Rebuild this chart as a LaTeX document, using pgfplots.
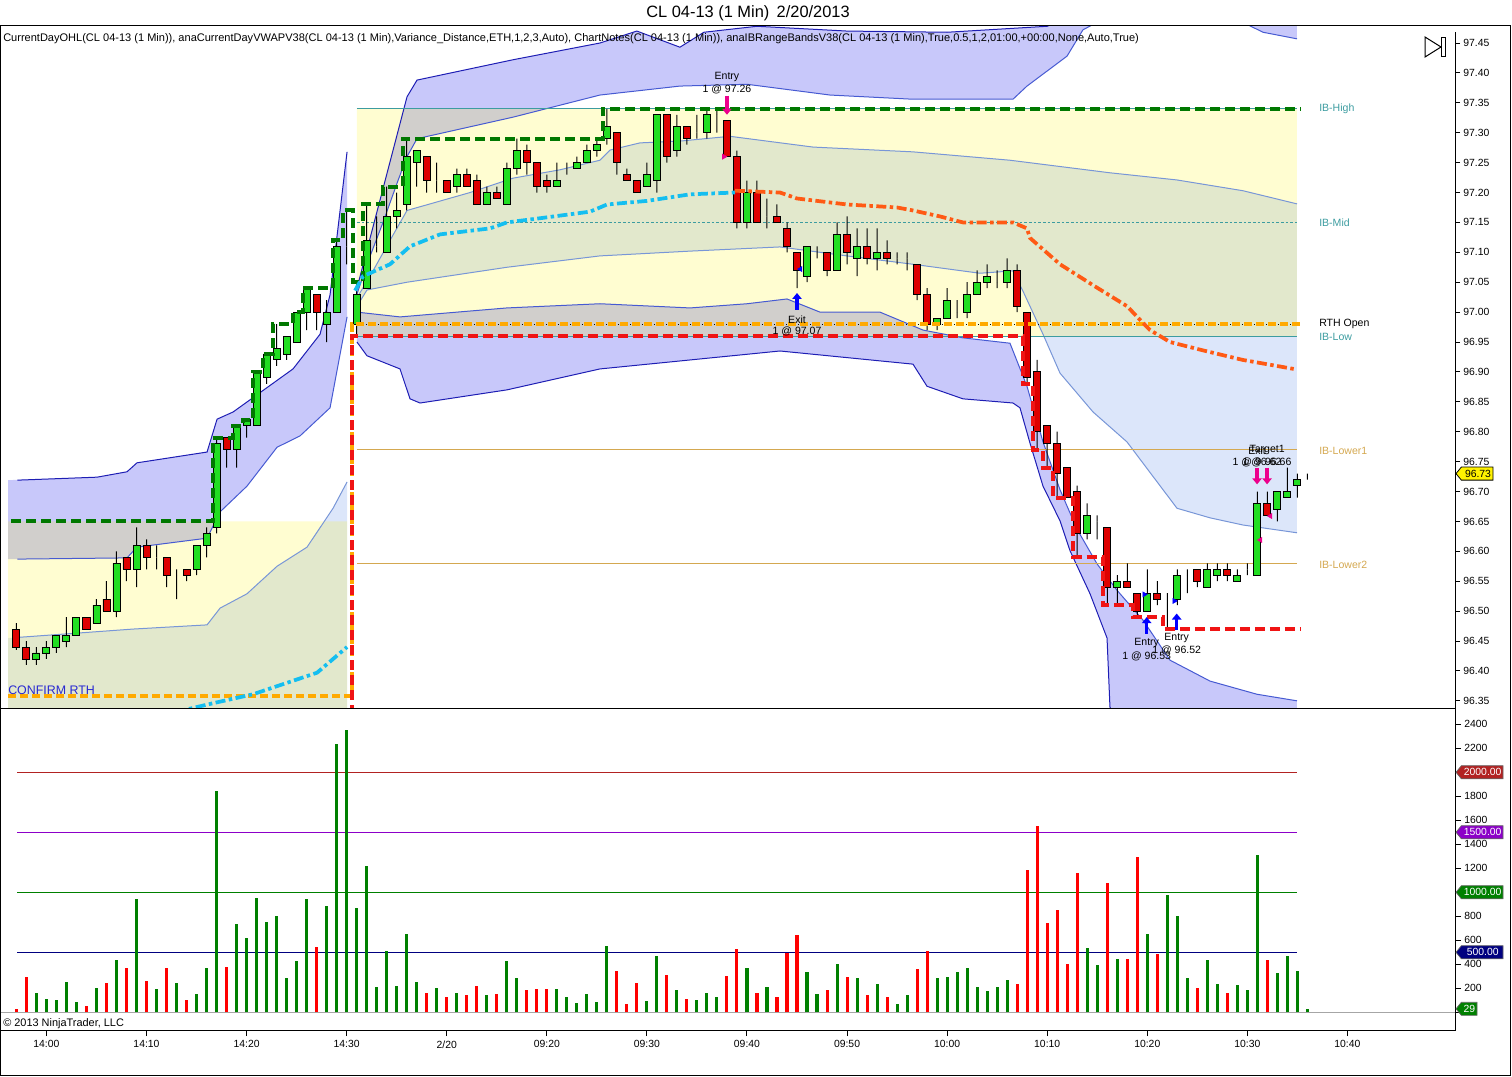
\documentclass[border=0pt]{standalone}
\usepackage{fontspec}
\setmainfont{Liberation Sans}
\usepackage{pgfplots}
\usepackage{pgfplotstable}
\pgfplotsset{compat=1.18}
\usetikzlibrary{arrows.meta}

\definecolor{bandblue}{RGB}{200,200,250}
\definecolor{midblue}{RGB}{220,230,250}
\definecolor{edgedark}{RGB}{30,30,180}
\definecolor{edgemid}{RGB}{70,90,210}
\definecolor{edgelight}{RGB}{120,150,215}
\definecolor{teal1}{RGB}{60,156,160}
\definecolor{gold1}{RGB}{212,168,80}
\definecolor{upg}{RGB}{34,222,34}
\definecolor{dnr}{RGB}{222,0,0}
\definecolor{ibgreen}{RGB}{0,120,0}
\definecolor{lowred}{RGB}{240,20,20}
\definecolor{openor}{RGB}{255,170,0}
\definecolor{vwapc}{RGB}{20,190,240}
\definecolor{vwapo}{RGB}{255,90,20}
\definecolor{vgreen}{RGB}{0,128,0}
\definecolor{vred}{RGB}{255,0,0}
\definecolor{l2000}{RGB}{178,34,34}
\definecolor{l1500}{RGB}{140,0,200}
\definecolor{l1000}{RGB}{0,128,0}
\definecolor{l500}{RGB}{0,0,128}
\definecolor{cfblue}{RGB}{40,40,210}

\newcommand\tk{\fontsize{7.8pt}{9pt}\selectfont}
\newcommand\an{\fontsize{7.9pt}{9pt}\selectfont}

% one-minute bars: index, open, high, low, close
\pgfplotstableread{
i o h l c
-3 96.47 96.48 96.435 96.44
-2 96.44 96.45 96.41 96.42
-1 96.42 96.44 96.41 96.43
0 96.43 96.45 96.42 96.44
1 96.44 96.46 96.43 96.46
2 96.45 96.49 96.44 96.46
3 96.46 96.49 96.46 96.49
4 96.49 96.49 96.47 96.47
5 96.48 96.52 96.48 96.51
6 96.52 96.55 96.50 96.50
7 96.50 96.60 96.49 96.58
8 96.59 96.59 96.55 96.57
9 96.57 96.64 96.54 96.61
10 96.61 96.62 96.57 96.59
11 96.59 96.61 96.57 96.59
12 96.59 96.59 96.54 96.56
13 96.56 96.57 96.52 96.56
14 96.57 96.57 96.55 96.56
15 96.57 96.61 96.56 96.61
16 96.61 96.64 96.59 96.63
17 96.64 96.79 96.63 96.78
18 96.79 96.79 96.74 96.77
19 96.77 96.81 96.74 96.81
20 96.81 96.82 96.79 96.82
21 96.81 96.90 96.81 96.90
22 96.89 96.93 96.88 96.93
23 96.92 96.98 96.91 96.94
24 96.93 96.96 96.92 96.96
25 96.95 97.00 96.95 97.00
26 97.00 97.04 96.97 97.04
27 97.03 97.03 96.97 97.00
28 96.98 97.02 96.95 97.00
29 97.00 97.12 97.00 97.11
30 97.11 97.17 97.08 97.11
31 96.98 97.05 96.96 97.03
32 97.04 97.18 97.04 97.12
33 97.11 97.16 97.10 97.11
34 97.10 97.21 97.10 97.16
35 97.16 97.20 97.14 97.17
36 97.18 97.29 97.17 97.26
37 97.25 97.27 97.21 97.27
38 97.26 97.26 97.20 97.22
39 97.22 97.25 97.20 97.22
40 97.22 97.22 97.20 97.20
41 97.21 97.24 97.20 97.23
42 97.23 97.24 97.21 97.21
43 97.22 97.23 97.18 97.18
44 97.18 97.21 97.18 97.20
45 97.20 97.21 97.19 97.19
46 97.18 97.25 97.18 97.24
47 97.24 97.29 97.23 97.27
48 97.27 97.28 97.23 97.25
49 97.25 97.25 97.20 97.21
50 97.22 97.23 97.20 97.21
51 97.21 97.25 97.21 97.22
52 97.24 97.25 97.23 97.24
53 97.24 97.26 97.24 97.25
54 97.25 97.28 97.25 97.27
55 97.27 97.29 97.26 97.28
56 97.29 97.34 97.28 97.31
57 97.30 97.30 97.23 97.25
58 97.23 97.24 97.22 97.22
59 97.22 97.22 97.20 97.20
60 97.21 97.25 97.21 97.23
61 97.22 97.33 97.20 97.33
62 97.33 97.33 97.25 97.26
63 97.27 97.33 97.26 97.31
64 97.31 97.31 97.28 97.29
65 97.30 97.33 97.29 97.30
66 97.30 97.34 97.29 97.33
67 97.33 97.34 97.30 97.33
68 97.32 97.32 97.26 97.26
69 97.26 97.27 97.14 97.15
70 97.15 97.22 97.14 97.20
71 97.20 97.22 97.15 97.15
72 97.16 97.19 97.14 97.16
73 97.16 97.18 97.15 97.15
74 97.14 97.15 97.10 97.11
75 97.10 97.10 97.04 97.07
76 97.06 97.11 97.05 97.11
77 97.11 97.11 97.09 97.11
78 97.10 97.10 97.06 97.07
79 97.07 97.15 97.07 97.13
80 97.13 97.16 97.08 97.10
81 97.09 97.14 97.06 97.11
82 97.11 97.14 97.08 97.09
83 97.09 97.14 97.07 97.10
84 97.10 97.12 97.08 97.09
85 97.09 97.10 97.08 97.09
86 97.09 97.10 97.07 97.09
87 97.08 97.08 97.02 97.03
88 97.03 97.04 96.97 96.98
89 96.98 96.99 96.97 96.99
90 96.99 97.04 96.99 97.02
91 97.00 97.02 96.99 97.00
92 97.00 97.05 96.99 97.03
93 97.03 97.07 97.03 97.05
94 97.05 97.08 97.04 97.06
95 97.05 97.07 97.04 97.05
96 97.05 97.09 97.04 97.07
97 97.07 97.08 97.00 97.01
98 97.00 97.00 96.88 96.89
99 96.90 96.92 96.77 96.80
100 96.81 96.81 96.74 96.78
101 96.78 96.80 96.69 96.73
102 96.74 96.74 96.69 96.69
103 96.70 96.71 96.59 96.63
104 96.63 96.68 96.62 96.66
105 96.65 96.66 96.62 96.65
106 96.64 96.64 96.51 96.54
107 96.54 96.56 96.51 96.55
108 96.55 96.58 96.54 96.54
109 96.53 96.53 96.49 96.50
110 96.50 96.57 96.50 96.53
111 96.53 96.55 96.51 96.52
112 96.52 96.53 96.47 96.52
113 96.52 96.57 96.51 96.56
114 96.56 96.57 96.53 96.56
115 96.57 96.57 96.54 96.55
116 96.54 96.58 96.54 96.57
117 96.56 96.58 96.55 96.57
118 96.57 96.58 96.55 96.56
119 96.55 96.57 96.55 96.56
120 96.57 96.58 96.56 96.57
121 96.56 96.70 96.56 96.68
122 96.68 96.70 96.66 96.66
123 96.67 96.70 96.65 96.70
124 96.69 96.74 96.69 96.70
125 96.71 96.73 96.69 96.72
126 96.73 96.73 96.72 96.73
}\candles

% volume per bar, up = 1 for a green bar
\pgfplotstableread{
i v up
-3 25 0
-2 294 0
-1 158 1
0 111 1
1 103 1
2 253 1
3 86 1
4 53 0
5 203 1
6 244 0
7 436 1
8 372 0
9 944 1
10 261 0
11 194 1
12 372 0
13 244 1
14 103 0
15 153 1
16 372 1
17 1847 1
18 381 0
19 736 1
20 619 1
21 953 1
22 753 1
23 803 1
24 286 1
25 428 1
26 944 1
27 544 0
28 886 1
29 2236 1
30 2353 1
31 869 1
32 1219 1
33 214 1
34 514 1
35 222 1
36 653 1
37 253 1
38 161 0
39 203 1
40 131 0
41 161 1
42 144 0
43 219 0
44 144 1
45 153 0
46 428 1
47 286 1
48 186 0
49 194 0
50 194 0
51 194 1
52 128 1
53 78 1
54 153 1
55 86 1
56 553 1
57 344 0
58 69 0
59 244 0
60 94 1
61 469 1
62 311 0
63 186 1
64 111 0
65 103 1
66 161 1
67 128 1
68 303 0
69 528 0
70 369 1
71 161 0
72 211 1
73 128 0
74 494 0
75 644 0
76 336 1
77 153 1
78 186 0
79 403 1
80 294 0
81 286 1
82 144 0
83 236 1
84 128 0
85 69 1
86 144 1
87 361 0
88 511 0
89 286 1
90 294 1
91 336 1
92 369 1
93 211 1
94 178 1
95 211 1
96 269 1
97 236 0
98 1186 0
99 1553 0
100 744 0
101 853 0
102 403 0
103 1161 0
104 536 1
105 394 1
106 1078 0
107 444 1
108 444 0
109 1294 0
110 653 1
111 486 0
112 978 1
113 803 1
114 286 1
115 203 0
116 436 1
117 236 1
118 161 0
119 228 1
120 186 1
121 1311 1
122 436 0
123 328 1
124 469 1
125 344 1
126 29 1
}\vols

\pgfplotsset{
  chartbase/.style={scale only axis, anchor=south west, width=1091.25pt,
    xmin=-4.64, xmax=140.75},
  pricebase/.style={chartbase, at={(0pt,276pt)}, height=510.75pt},
  edge/.style={line width=0.75pt},
}

\begin{document}
\begin{tikzpicture}
\path[use as bounding box] (0,0) rectangle (1134pt,807pt);

% ---------- price panel: bands, levels, ticks
\begin{axis}[pricebase, ymin=96.338, ymax=97.4768,
  axis line style={draw=none}, xtick=\empty,
  ytick={96.35,96.4,96.45,96.5,96.55,96.6,96.65,96.7,96.75,96.8,96.85,96.9,96.95,97,97.05,97.1,97.15,97.2,97.25,97.3,97.35,97.4,97.45},
  ytick pos=right, yticklabel pos=right, tick align=outside,
  major tick length=3.75pt, tick style={black, line width=0.75pt},
  yticklabel style={font=\tk, xshift=-1pt, /pgf/number format/.cd, fixed, fixed zerofill, precision=2, assume math mode=true}]
  % previous session bands
  \addplot[fill=bandblue, draw=none] coordinates {(-3.84,96.719) (5.06,96.724) (8.05,96.733) (9.05,96.748) (16.05,96.766) (17.05,96.821) (18.65,96.833) (24.64,96.905) (27.34,96.963) (28.34,97.029) (30.04,97.268) (30.04,96.992) (28.34,96.840) (25.34,96.793) (23.04,96.774) (20.04,96.709) (17.35,96.666) (16.05,96.622) (9.05,96.607) (8.05,96.589) (-3.84,96.587)};
  \addplot[fill=midblue, draw=none] coordinates {(-3.84,96.455) (8.65,96.470) (16.05,96.477) (17.35,96.505) (20.04,96.529) (23.04,96.575) (26.04,96.607) (28.64,96.672) (30.04,96.716) (30.04,96.0) (-3.84,96.0)};
  % RTH bands
  \addplot[fill=bandblue, draw=none] coordinates {(31.03,97.04) (36.03,97.36) (37.03,97.388) (46.62,97.422) (55.31,97.45) (59,97.47) (63.3,97.443) (65.7,97.468) (71,97.478) (80,97.47) (90,97.468) (100,97.478) (103,97.50) (124.96,97.55) (124.96,97.457) (121.56,97.468) (115.27,97.52) (107.27,97.505) (103.57,97.472) (101.98,97.428) (97.98,97.378) (96.58,97.356) (86.59,97.356) (78.3,97.363) (70.0,97.381) (63.31,97.378) (55.31,97.363) (46.62,97.326) (37.03,97.29) (36.03,97.26) (35.13,97.22) (33.63,97.15) (32.03,97.08) (31.03,97.03)};
  \addplot[fill=midblue, draw=none] coordinates {(31.03,97.024) (32.33,97.06) (34.33,97.12) (36.03,97.17) (42.33,97.20) (46.62,97.224) (51.32,97.238) (55.31,97.254) (56.32,97.271) (59.31,97.283) (63.31,97.286) (68.3,97.294) (76.6,97.276) (86.59,97.268) (96.28,97.254) (106.27,97.233) (112.97,97.221) (119.56,97.203) (124.96,97.181) (124.96,96.631) (119.56,96.644) (116.27,96.656) (112.97,96.672) (107.97,96.783) (104.58,96.833) (101.28,96.898) (99.58,96.963) (97.58,97.035) (96.58,97.069) (93.28,97.065) (86.59,97.080) (79.99,97.094) (73.3,97.109) (64.31,97.102) (55.31,97.094) (46.02,97.075) (36.03,97.050) (32.03,97.037) (31.03,97.01)};
  \addplot[fill=bandblue, draw=none] coordinates {(31.03,97.00) (35.33,96.992) (46.02,97.007) (55.31,97.014) (64.31,97.007) (70.0,97.014) (74.0,97.022) (77.3,97.000) (83.29,97.000) (87.59,96.970) (91.58,96.957) (96.28,96.948) (97.98,96.876) (99.58,96.783) (101.28,96.703) (102.98,96.637) (104.98,96.579) (106.97,96.535) (109.57,96.485) (112.27,96.418) (116.27,96.383) (120.96,96.361) (124.96,96.350) (124.96,96.20) (108,96.25) (106.27,96.340) (105.98,96.455) (104.28,96.529) (102.28,96.601) (101.28,96.651) (99.58,96.709) (98.28,96.781) (97.28,96.840) (96.58,96.848) (91.58,96.855) (87.99,96.876) (86.59,96.913) (73.3,96.935) (64.31,96.920) (55.31,96.905) (46.02,96.870) (37.33,96.848) (36.33,96.855) (35.33,96.905) (32.03,96.927) (31.03,96.95)};
  % initial balance ranges
  \addplot[draw=none, fill=yellow, fill opacity=0.18] coordinates {(-3.84,96.30) (30.04,96.30) (30.04,96.65) (-3.84,96.65) (-3.84,96.30)};
  \addplot[draw=none, fill=yellow, fill opacity=0.18] coordinates {(31.03,96.96) (124.96,96.96) (124.96,97.34) (31.03,97.34) (31.03,96.96)};
  % band edges
  \addplot[edge, edgedark] coordinates {(-2.9,96.719) (5.06,96.724) (8.05,96.733) (9.05,96.748) (16.05,96.766) (17.05,96.821) (18.65,96.833) (24.64,96.905) (27.34,96.963) (28.34,97.029) (30.04,97.268)};
  \addplot[edge, edgemid] coordinates {(-2.9,96.587) (8.05,96.589) (9.05,96.607) (16.05,96.622) (17.35,96.666) (20.04,96.709) (23.04,96.774) (25.34,96.793) (28.34,96.840) (30.04,96.992)};
  \addplot[edge, edgelight] coordinates {(-2.9,96.456) (8.65,96.470) (16.05,96.477) (17.35,96.505) (20.04,96.529) (23.04,96.575) (26.04,96.607) (28.64,96.672) (30.04,96.716)};
  \addplot[edge, edgedark] coordinates {(31.03,97.04) (36.03,97.36) (37.03,97.388) (46.62,97.422) (55.31,97.45) (59,97.47) (63.3,97.443) (65.7,97.468) (71,97.478) (80,97.47) (90,97.468) (100,97.478) (103,97.50) (124.96,97.55)};
  \addplot[edge, edgemid] coordinates {(31.03,97.03) (32.03,97.08) (33.63,97.15) (35.13,97.22) (36.03,97.26) (37.03,97.29) (46.62,97.326) (55.31,97.363) (63.31,97.378) (70.0,97.381) (78.3,97.363) (86.59,97.356) (96.58,97.356) (97.98,97.378) (101.98,97.428) (103.57,97.472) (107.27,97.505) (115.27,97.52) (121.56,97.468) (124.96,97.457)};
  \addplot[edge, edgelight] coordinates {(31.03,97.024) (32.33,97.06) (34.33,97.12) (36.03,97.17) (42.33,97.20) (46.62,97.224) (51.32,97.238) (55.31,97.254) (56.32,97.271) (59.31,97.283) (63.31,97.286) (68.3,97.294) (76.6,97.276) (86.59,97.268) (96.28,97.254) (106.27,97.233) (112.97,97.221) (119.56,97.203) (124.96,97.181)};
  \addplot[edge, edgelight] coordinates {(31.03,97.01) (32.03,97.037) (36.03,97.050) (46.02,97.075) (55.31,97.094) (64.31,97.102) (73.3,97.109) (79.99,97.094) (86.59,97.080) (93.28,97.065) (96.58,97.069) (97.58,97.035) (99.58,96.963) (101.28,96.898) (104.58,96.833) (107.97,96.783) (112.97,96.672) (116.27,96.656) (119.56,96.644) (124.96,96.631)};
  \addplot[edge, edgemid] coordinates {(31.03,97.00) (35.33,96.992) (46.02,97.007) (55.31,97.014) (64.31,97.007) (70.0,97.014) (74.0,97.022) (77.3,97.000) (83.29,97.000) (87.59,96.970) (91.58,96.957) (96.28,96.948) (97.98,96.876) (99.58,96.783) (101.28,96.703) (102.98,96.637) (104.98,96.579) (106.97,96.535) (109.57,96.485) (112.27,96.418) (116.27,96.383) (120.96,96.361) (124.96,96.350)};
  \addplot[edge, edgedark] coordinates {(31.03,96.95) (32.03,96.927) (35.33,96.905) (36.33,96.855) (37.33,96.848) (46.02,96.870) (55.31,96.905) (64.31,96.920) (73.3,96.935) (86.59,96.913) (87.99,96.876) (91.58,96.855) (96.58,96.848) (97.28,96.840) (98.28,96.781) (99.58,96.709) (101.28,96.651) (102.28,96.601) (104.28,96.529) (105.98,96.455) (106.27,96.340) (108,96.25)};
  % IB levels
  \addplot[teal1, line width=0.75pt] coordinates {(31.03,97.34) (124.96,97.34)};
  \addplot[teal1, line width=0.6pt, dash pattern=on 2pt off 1.5pt] coordinates {(31.03,97.15) (124.96,97.15)};
  \addplot[teal1, line width=0.75pt] coordinates {(31.03,96.96) (124.96,96.96)};
  \addplot[gold1, line width=0.75pt] coordinates {(31.03,96.77) (124.96,96.77)};
  \addplot[gold1, line width=0.75pt] coordinates {(31.03,96.58) (124.96,96.58)};
  \addplot[black, line width=0.5pt, dash pattern=on 0.75pt off 1.5pt] coordinates {(31.03,96.98) (125.3,96.98)};
\end{axis}

% ---------- candles
\begin{axis}[pricebase, ymin=0.338, ymax=1.4768, hide axis, ybar stacked]
  \addplot[draw=none, fill=none, bar width=0.7] table[x=i, y expr=\thisrow{l}-96] {\candles};
  \addplot[fill=black, draw=none, bar width=0.1] table[x=i, y expr={min(\thisrow{o},\thisrow{c})-\thisrow{l}}] {\candles};
  \addplot[fill=upg, draw=black, line width=0.7pt, bar width=0.7] table[x=i, y expr={max(\thisrow{c}-\thisrow{o},0)}] {\candles};
  \addplot[fill=dnr, draw=black, line width=0.7pt, bar width=0.7] table[x=i, y expr={max(\thisrow{o}-\thisrow{c},0)}] {\candles};
  \addplot[fill=black, draw=none, bar width=0.1] table[x=i, y expr={\thisrow{h}-max(\thisrow{o},\thisrow{c})}] {\candles};
\end{axis}

% ---------- day OHL, VWAP, executions, notes
\begin{axis}[pricebase, ymin=96.338, ymax=97.4768, hide axis]
  \addplot[const plot, openor, line width=3pt, dash pattern=on 6pt off 3pt] coordinates {(-3.84,96.358) (30.5,96.98) (125.3,96.98)};
  \addplot[const plot, lowred, line width=3pt, dash pattern=on 7.5pt off 3.75pt] coordinates {(-3.9,96.20) (30.5,96.96) (97.6,96.88) (98.6,96.77) (99.6,96.74) (100.6,96.69) (102.6,96.59) (105.6,96.51) (108.6,96.49) (111.6,96.47) (125.3,96.47)};
  \addplot[const plot, ibgreen, line width=3pt, dash pattern=on 7.5pt off 3.75pt] coordinates {(-3.5,96.65) (16.6,96.79) (18.6,96.81) (19.6,96.82) (20.6,96.90) (21.6,96.93) (22.6,96.98) (24.6,97.00) (25.6,97.04) (28.6,97.12) (29.6,97.17) (30.6,97.05) (31.6,97.18) (33.6,97.21) (35.6,97.29) (55.6,97.34) (125.3,97.34)};
  \addplot[vwapc, line width=2.8pt, dash pattern=on 7.5pt off 2.6pt on 2.6pt off 2.6pt] coordinates {(5,96.30) (16.65,96.346) (20.64,96.361) (27.04,96.397) (30.04,96.44)};
  \addplot[vwapc, line width=2.8pt, dash pattern=on 7.5pt off 2.6pt on 2.6pt off 2.6pt] coordinates {(30.84,97.036) (31.63,97.06) (34.33,97.08) (35.33,97.095) (36.33,97.11) (39.33,97.13) (44.32,97.14) (46.02,97.15) (49.32,97.157) (54.32,97.168) (56.02,97.18) (60.01,97.186) (64.31,97.197) (68.8,97.20)};
  \addplot[vwapo, line width=2.8pt, dash pattern=on 7.5pt off 2.6pt on 2.6pt off 2.6pt] coordinates {(68.8,97.203) (73.3,97.20) (75.0,97.19) (79.99,97.18) (84.99,97.175) (86.59,97.17) (89.29,97.16) (91.58,97.15) (96.58,97.15) (97.98,97.14) (98.28,97.124) (101.28,97.08) (104.58,97.045) (107.97,97.01) (110.27,96.97) (112.27,96.95) (115.57,96.936) (119.56,96.92) (121.26,96.915) (124.96,96.904)};
  % execution arrows
  \addplot[magenta, line width=2.4pt, -{Triangle[length=4.5pt,width=7pt]}] coordinates {(68,97.362) (68,97.330)};
  \addplot[blue, line width=2.4pt, -{Triangle[length=4.5pt,width=7pt]}] coordinates {(75,97.004) (75,97.032)};
  \addplot[blue, line width=2.4pt, -{Triangle[length=4.5pt,width=7pt]}] coordinates {(109.94,96.462) (109.94,96.490)};
  \addplot[blue, line width=2.4pt, -{Triangle[length=4.5pt,width=7pt]}] coordinates {(112.94,96.468) (112.94,96.496)};
  \addplot[magenta, line width=2.4pt, -{Triangle[length=4.5pt,width=7pt]}] coordinates {(120.97,96.740) (120.97,96.712)};
  \addplot[magenta, line width=2.4pt, -{Triangle[length=4.5pt,width=7pt]}] coordinates {(121.97,96.740) (121.97,96.712)};
  \addplot[only marks, mark=triangle*, mark size=2.2pt, mark options={rotate=-90, fill=magenta, draw=magenta}] coordinates {(67.7,97.26)};
  \addplot[only marks, mark=triangle*, mark size=2.2pt, mark options={rotate=90, fill=blue, draw=blue}] coordinates {(75.35,97.072)};
  \addplot[only marks, mark=triangle*, mark size=2.2pt, mark options={rotate=-90, fill=blue, draw=blue}] coordinates {(109.7,96.528) (112.7,96.517)};
  \addplot[only marks, mark=triangle*, mark size=2.2pt, mark options={rotate=90, fill=magenta, draw=magenta}] coordinates {(121.3,96.619) (122.3,96.659)};
  % notes
  \node[font=\an] at (axis cs:68,97.393) {Entry};
  \node[font=\an] at (axis cs:68,97.373) {1 @ 97.26};
  \node[font=\an] at (axis cs:75,96.988) {Exit};
  \node[font=\an] at (axis cs:75,96.968) {1 @ 97.07};
  \node[font=\an] at (axis cs:109.94,96.446) {Entry};
  \node[font=\an] at (axis cs:109.94,96.425) {1 @ 96.53};
  \node[font=\an] at (axis cs:112.94,96.455) {Entry};
  \node[font=\an] at (axis cs:112.94,96.435) {1 @ 96.52};
  \node[font=\an] at (axis cs:120.97,96.769) {Exit};
  \node[font=\an] at (axis cs:120.97,96.749) {1 @ 96.62};
  \node[font=\an] at (axis cs:121.97,96.769) {Target1};
  \node[font=\an] at (axis cs:121.97,96.749) {1 @ 96.66};
  \node[font=\fontsize{9.3pt}{11pt}\selectfont, text=cfblue, anchor=west, inner sep=0pt] at (axis cs:-3.84,96.368) {CONFIRM RTH};
  \node[font=\an, text=teal1, anchor=west, inner sep=0pt] at (axis cs:127.16,97.34) {IB-High};
  \node[font=\an, text=teal1, anchor=west, inner sep=0pt] at (axis cs:127.16,97.15) {IB-Mid};
  \node[font=\an, text=black, anchor=west, inner sep=0pt] at (axis cs:127.16,96.98) {RTH Open};
  \node[font=\an, text=teal1, anchor=west, inner sep=0pt] at (axis cs:127.16,96.958) {IB-Low};
  \node[font=\an, text=gold1, anchor=west, inner sep=0pt] at (axis cs:127.16,96.768) {IB-Lower1};
  \node[font=\an, text=gold1, anchor=west, inner sep=0pt] at (axis cs:127.16,96.577) {IB-Lower2};
\end{axis}

% ---------- volume panel
\begin{axis}[chartbase, at={(0pt,34.5pt)}, height=241.5pt,
  ymin=-147.5, ymax=2535.8,
  axis line style={black, line width=0.75pt},
  xtick={0,10,...,130},
  xticklabels={14:00,14:10,14:20,14:30,2/20,09:20,09:30,09:40,09:50,10:00,10:10,10:20,10:30,10:40},
  xtick pos=left, xticklabel pos=left,
  ytick={0,200,...,2400}, ytick pos=right, yticklabel pos=right,
  yticklabels={,200,400,600,800,,1200,1400,1600,1800,,2200,2400},
  tick align=outside, major tick length=4.5pt, tick style={black, line width=0.75pt},
  xticklabel style={font=\tk},
  yticklabel style={font=\tk, xshift=-1pt}]
  \addplot[gray!70, line width=0.75pt] coordinates {(-4.64,0) (140.75,0)};
  \addplot[l2000, line width=0.75pt] coordinates {(-2.9,2000) (124.96,2000)};
  \addplot[l1500, line width=0.75pt] coordinates {(-2.9,1500) (124.96,1500)};
  \addplot[l1000, line width=0.75pt] coordinates {(-2.9,1000) (124.96,1000)};
  \addplot[l500, line width=0.75pt] coordinates {(-2.9,500) (124.96,500)};
  \addplot[ycomb, vgreen, line width=2.3pt] table[x=i, y expr=\thisrow{v}*\thisrow{up}] {\vols};
  \addplot[ycomb, vred, line width=2.3pt] table[x=i, y expr=\thisrow{v}*(1-\thisrow{up})] {\vols};
\end{axis}

% ---------- frame, titles, value tags
\draw[black, line width=0.75pt] (1091.25pt,276pt) -- (1091.25pt,783.2pt);
\draw[black, line width=0.75pt] (0.4pt,787.5pt) rectangle (1133.2pt,0.4pt);
\node[font=\fontsize{12.3pt}{14pt}\selectfont] at (561pt,797.25pt) {CL 04-13 (1 Min)\hspace{0.45em}2/20/2013};
\node[font=\fontsize{8.27pt}{9.5pt}\selectfont, anchor=west, inner sep=0pt] at (2.25pt,777.75pt) {CurrentDayOHL(CL 04-13 (1 Min)), anaCurrentDayVWAPV38(CL 04-13 (1 Min),Variance\_Distance,ETH,1,2,3,Auto), ChartNotes(CL 04-13 (1 Min)), anaIBRangeBandsV38(CL 04-13 (1 Min),True,0.5,1,2,01:00,+00:00,None,Auto,True)};
\node[font=\fontsize{8.2pt}{9pt}\selectfont, anchor=west, inner sep=0pt] at (2.25pt,39pt) {\char"00A9\ 2013 NinjaTrader, LLC};
\draw[black, line width=0.75pt] (1068.75pt,779.25pt) -- (1080.75pt,771.75pt) -- (1068.75pt,764.25pt) -- cycle;
\draw[black, line width=0.75pt] (1081.3pt,778.5pt) rectangle (1084.1pt,764.25pt);
% last price
\draw[fill=yellow, draw=black, line width=0.6pt] (1092pt,451.8pt) -- (1096pt,456.7pt) -- (1119.75pt,456.7pt) -- (1119.75pt,446.9pt) -- (1096pt,446.9pt) -- cycle;
\node[font=\tk] at (1108.5pt,451.8pt) {96.73};
% volume level tags
\draw[fill=l2000, draw=black!60, line width=0.5pt] (1092pt,227.8pt) -- (1096pt,232.7pt) -- (1127.25pt,232.7pt) -- (1127.25pt,222.9pt) -- (1096pt,222.9pt) -- cycle;
\node[font=\tk, text=white] at (1112pt,227.8pt) {2000.00};
\draw[fill=l1500, draw=black!60, line width=0.5pt] (1092pt,182.8pt) -- (1096pt,187.7pt) -- (1127.25pt,187.7pt) -- (1127.25pt,177.9pt) -- (1096pt,177.9pt) -- cycle;
\node[font=\tk, text=white] at (1112pt,182.8pt) {1500.00};
\draw[fill=l1000, draw=black!60, line width=0.5pt] (1092pt,137.8pt) -- (1096pt,142.7pt) -- (1127.25pt,142.7pt) -- (1127.25pt,132.9pt) -- (1096pt,132.9pt) -- cycle;
\node[font=\tk, text=white] at (1112pt,137.8pt) {1000.00};
\draw[fill=l500, draw=black!60, line width=0.5pt] (1092pt,92.8pt) -- (1096pt,97.7pt) -- (1127.25pt,97.7pt) -- (1127.25pt,87.9pt) -- (1096pt,87.9pt) -- cycle;
\node[font=\tk, text=white] at (1112pt,92.8pt) {500.00};
\draw[fill=vgreen, draw=black!60, line width=0.5pt] (1092pt,50.4pt) -- (1096pt,55.3pt) -- (1107.75pt,55.3pt) -- (1107.75pt,45.5pt) -- (1096pt,45.5pt) -- cycle;
\node[font=\tk, text=white] at (1102pt,50.4pt) {29};
\end{tikzpicture}
\end{document}
